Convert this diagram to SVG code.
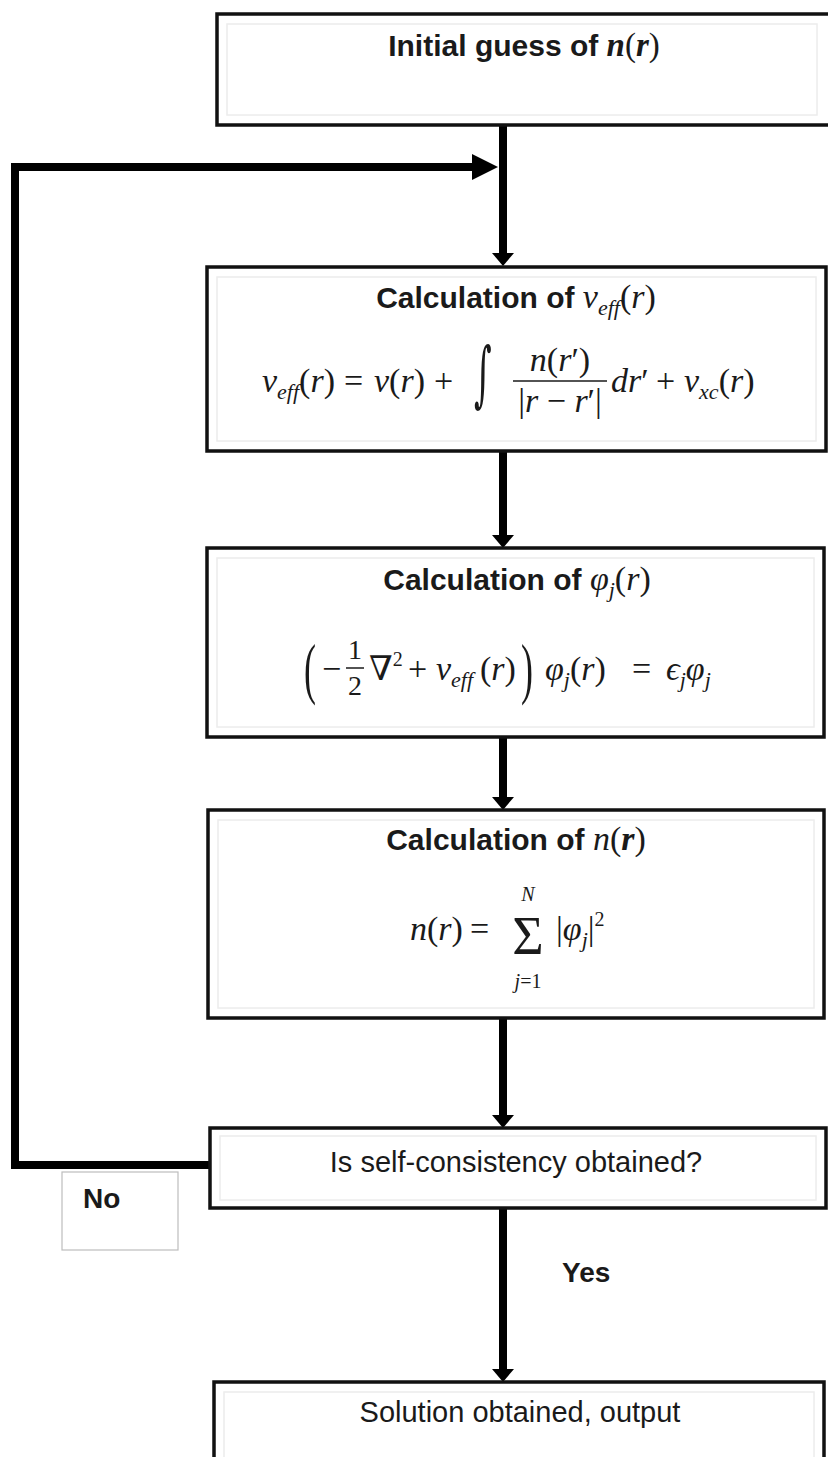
<svg xmlns="http://www.w3.org/2000/svg" width="828" height="1457" viewBox="0 0 828 1457">
<style>
.box{fill:#fff;stroke:#111;stroke-width:3.5}
.inner{fill:none;stroke:#ececec;stroke-width:1.5}
.t{font-family:"Liberation Sans",Arial,sans-serif;font-weight:bold;font-size:30px;fill:#1a1a1a}
.lb{font-family:"Liberation Sans",Arial,sans-serif;font-weight:bold;font-size:28px;fill:#1a1a1a}
.r{font-family:"Liberation Sans",Arial,sans-serif;font-size:29px;fill:#1a1a1a}
.m{font-family:"Liberation Serif","DejaVu Serif",serif;font-size:34px;fill:#1a1a1a}
.mi{font-family:"Liberation Serif","DejaVu Serif",serif;font-style:italic}
.sub{font-size:22px}
.wire{fill:none;stroke:#000;stroke-width:8;stroke-linejoin:miter}
</style>
<defs>
<marker id="hd" viewBox="0 -11 13 22" refX="0" refY="0" markerWidth="13" markerHeight="22" markerUnits="userSpaceOnUse" orient="auto"><path d="M0,-11 L13,0 L0,11 z" fill="#000"/></marker>
<marker id="hl" viewBox="0 -13 26 26" refX="0" refY="0" markerWidth="26" markerHeight="26" markerUnits="userSpaceOnUse" orient="auto"><path d="M0,-13 L26,0 L0,13 z" fill="#000"/></marker>
</defs>

<g id="connectors">
<path class="wire" d="M503,125 V253" marker-end="url(#hd)"/>
<path class="wire" d="M503,451 V535" marker-end="url(#hd)"/>
<path class="wire" d="M503,737 V797" marker-end="url(#hd)"/>
<path class="wire" d="M503,1018 V1115" marker-end="url(#hd)"/>
<path class="wire" d="M503,1208 V1369" marker-end="url(#hd)"/>
<path class="wire" d="M210,1165 H15 V167 H472" marker-end="url(#hl)"/>
</g>

<g id="n1">
<rect class="box" x="217" y="14" width="640" height="111"/>
<rect class="inner" x="227" y="24" width="590" height="91"/>
<text class="t" x="524" y="56" text-anchor="middle">Initial guess of <tspan class="mi" style="font-size:33px">n</tspan><tspan style="font-family:'Liberation Serif';font-size:33px;font-weight:normal">(</tspan><tspan class="mi" style="font-size:33px">r</tspan><tspan style="font-family:'Liberation Serif';font-size:33px;font-weight:normal">)</tspan></text>
</g>

<g id="n2">
<rect class="box" x="207" y="267" width="619" height="184"/>
<rect class="inner" x="217" y="277" width="599" height="164"/>
<text class="t" x="516" y="308" text-anchor="middle">Calculation of <tspan class="mi" style="font-size:34px;font-weight:normal">v</tspan><tspan class="mi" style="font-size:22px;font-weight:normal" dy="7">eff</tspan><tspan style="font-family:'Liberation Serif';font-size:34px;font-weight:normal" dy="-7">(</tspan><tspan class="mi" style="font-size:34px;font-weight:normal">r</tspan><tspan style="font-family:'Liberation Serif';font-size:34px;font-weight:normal">)</tspan></text>
<text class="m" x="262" y="392"><tspan class="mi">v</tspan><tspan class="mi sub" dy="7">eff</tspan><tspan dy="-7">(</tspan><tspan class="mi">r</tspan>)</text>
<text class="m" x="344" y="392">=</text>
<text class="m" x="374" y="392"><tspan class="mi">v</tspan>(<tspan class="mi">r</tspan>)</text>
<text class="m" x="434" y="392">+</text>
<text class="m" transform="translate(474,398) scale(1,2.1)"><tspan style="font-family:'DejaVu Serif';font-style:italic">∫</tspan></text>
<text class="m" x="560" y="371" text-anchor="middle"><tspan class="mi">n</tspan>(<tspan class="mi">r</tspan>′)</text>
<line x1="513" y1="381" x2="607" y2="381" stroke="#1a1a1a" stroke-width="1.6"/>
<text class="m" x="560" y="412" text-anchor="middle">|<tspan class="mi">r</tspan> − <tspan class="mi">r</tspan>′|</text>
<text class="m" x="611" y="392"><tspan class="mi">dr</tspan>′</text>
<text class="m" x="656" y="392">+</text>
<text class="m" x="684" y="392"><tspan class="mi">v</tspan><tspan class="mi sub" dy="7">xc</tspan><tspan dy="-7">(</tspan><tspan class="mi">r</tspan>)</text>
</g>

<g id="n3">
<rect class="box" x="207" y="548" width="617" height="189"/>
<rect class="inner" x="217" y="558" width="597" height="169"/>
<text class="t" x="517" y="590" text-anchor="middle">Calculation of <tspan class="mi" style="font-size:34px;font-weight:normal">φ</tspan><tspan class="mi" style="font-size:22px;font-weight:normal" dy="7">j</tspan><tspan style="font-family:'Liberation Serif';font-size:34px;font-weight:normal" dy="-7">(</tspan><tspan class="mi" style="font-size:34px;font-weight:normal">r</tspan><tspan style="font-family:'Liberation Serif';font-size:34px;font-weight:normal">)</tspan></text>
<text class="m" transform="translate(304,691) scale(1,1.9)" style="font-size:36px">(</text>
<text class="m" x="322" y="680">−</text>
<text class="m" x="355" y="659" text-anchor="middle" style="font-size:28px">1</text>
<line x1="346" y1="668" x2="364" y2="668" stroke="#1a1a1a" stroke-width="1.5"/>
<text class="m" x="355" y="695" text-anchor="middle" style="font-size:28px">2</text>
<text class="m" x="369" y="680">∇<tspan style="font-size:20px" dy="-14">2</tspan></text>
<text class="m" x="408" y="680">+</text>
<text class="m" x="436" y="680"><tspan class="mi">v</tspan><tspan class="mi sub" dy="7">eff</tspan></text>
<text class="m" x="480" y="680">(<tspan class="mi">r</tspan>)</text>
<text class="m" transform="translate(521,691) scale(1,1.9)" style="font-size:36px">)</text>
<text class="m" x="545" y="680"><tspan class="mi">φ</tspan><tspan class="mi sub" dy="7">j</tspan><tspan dy="-7">(</tspan><tspan class="mi">r</tspan>)</text>
<text class="m" x="632" y="680">=</text>
<text class="m" x="666" y="680"><tspan class="mi">ϵ</tspan><tspan class="mi sub" dy="7">j</tspan><tspan class="mi" dy="-7">φ</tspan><tspan class="mi sub" dy="7">j</tspan></text>
</g>

<g id="n4">
<rect class="box" x="208" y="810" width="616" height="208"/>
<rect class="inner" x="218" y="820" width="596" height="188"/>
<text class="t" x="516" y="850" text-anchor="middle">Calculation of <tspan class="mi" style="font-size:34px;font-weight:normal">n</tspan><tspan style="font-family:'Liberation Serif';font-size:34px;font-weight:normal">(</tspan><tspan class="mi" style="font-size:34px">r</tspan><tspan style="font-family:'Liberation Serif';font-size:34px;font-weight:normal">)</tspan></text>
<text class="m" x="410" y="940"><tspan class="mi">n</tspan>(<tspan class="mi">r</tspan>)</text>
<text class="m" x="470" y="940">=</text>
<text class="m" x="528" y="954" text-anchor="middle" style="font-size:54px">Σ</text>
<text class="m" x="528" y="901" text-anchor="middle" style="font-size:20px"><tspan class="mi">N</tspan></text>
<text class="m" x="528" y="988" text-anchor="middle" style="font-size:20px"><tspan class="mi">j</tspan>=1</text>
<text class="m" x="556" y="940">|<tspan class="mi">φ</tspan><tspan class="mi sub" dy="7">j</tspan><tspan dy="-7">|</tspan><tspan style="font-size:20px" dy="-14">2</tspan></text>
</g>

<g id="n5">
<rect class="box" x="210" y="1128" width="616" height="80"/>
<rect class="inner" x="220" y="1136" width="596" height="64"/>
<text class="r" x="516" y="1172" text-anchor="middle">Is self-consistency obtained?</text>
</g>

<g id="lbl-no">
<rect x="62" y="1172" width="116" height="78" fill="#fff" stroke="#bdbdbd" stroke-width="1.2"/>
<text class="lb" x="83" y="1208">No</text>
</g>

<g id="lbl-yes">
<text class="lb" x="562" y="1282">Yes</text>
</g>

<g id="n6">
<rect class="box" x="214" y="1382" width="610" height="110"/>
<rect class="inner" x="224" y="1392" width="590" height="90"/>
<text class="r" x="520" y="1422" text-anchor="middle">Solution obtained, output</text>
</g>
</svg>
